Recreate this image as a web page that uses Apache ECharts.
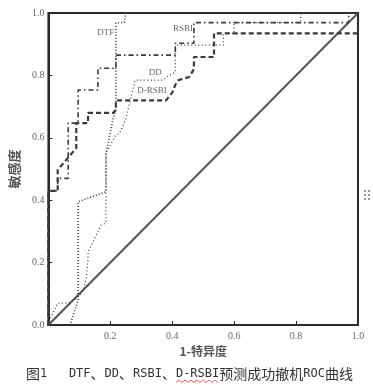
<!DOCTYPE html>
<html><head><meta charset="utf-8">
<script src="https://cdn.jsdelivr.net/npm/echarts@6/dist/echarts.min.js"></script>
<style>html,body{margin:0;padding:0;background:#fff}#c{width:373px;height:385px}</style>
</head><body><div id="c"></div>
<script>
// tick labels
const xTicks = ['', '0.2', '0.4', '0.6', '0.8', '1.0'];
const yTicks = ['0.0', '0.2', '0.4', '0.6', '0.8', '1.0'];
// reference line
const refX = [0, 1];
const refY = [0, 1];
// DTF (dotted)
const dtfX = [0, 0.07, 0.096, 0.096, 0.186, 0.186, 0.208, 0.218, 0.218, 0.245, 0.25, 1];
const dtfY = [0, 0, 0.08, 0.395, 0.427, 0.55, 0.657, 0.69, 0.968, 0.97, 1, 1];
// DD (fine dotted)
const ddX = [0, 0.006, 0.03, 0.064, 0.09, 0.105, 0.115, 0.122, 0.128, 0.128, 0.144, 0.16, 0.17, 0.186, 0.186, 0.215, 0.23, 0.25, 0.28, 0.37, 0.39, 0.41, 0.41, 0.565, 0.565, 0.6, 0.6, 0.815, 0.815, 1];
const ddY = [0, 0.02, 0.07, 0.07, 0.085, 0.1, 0.12, 0.15, 0.21, 0.235, 0.265, 0.3, 0.32, 0.327, 0.55, 0.605, 0.615, 0.66, 0.785, 0.785, 0.8, 0.81, 0.897, 0.897, 0.935, 0.935, 0.969, 0.969, 1, 1];
// RSBI (dash-dot)
const rsbiX = [0, 0, 0.03, 0.03, 0.064, 0.064, 0.096, 0.096, 0.16, 0.16, 0.218, 0.218, 0.41, 0.41, 0.47, 0.47, 0.97, 0.97, 1];
const rsbiY = [0, 0.43, 0.43, 0.47, 0.47, 0.647, 0.647, 0.753, 0.753, 0.823, 0.823, 0.865, 0.865, 0.903, 0.903, 0.969, 0.969, 1, 1];
// D-RSBI (dashed)
const drsbiX = [0, 0, 0.03, 0.03, 0.058, 0.09, 0.09, 0.128, 0.128, 0.21, 0.218, 0.218, 0.38, 0.40, 0.41, 0.42, 0.455, 0.47, 0.47, 0.535, 0.535, 1, 1];
const drsbiY = [0, 0.43, 0.43, 0.497, 0.53, 0.567, 0.647, 0.647, 0.68, 0.68, 0.69, 0.72, 0.72, 0.745, 0.77, 0.785, 0.795, 0.82, 0.859, 0.859, 0.935, 0.935, 1];
// curve labels
const curveNames = ['DTF', 'RSBI', 'DD', 'D-RSBI'];
const labelX = [0.185, 0.435, 0.345, 0.335];
const labelY = [0.937, 0.95, 0.81, 0.752];

const pairs = (xs, ys) => xs.map((x, i) => [x, ys[i]]);
const ink = '#3a3a3a';
const serif = '"Liberation Serif","DejaVu Serif",serif';

// caption pieces (Latin in mono, CJK wider)
const captionParts = [['c', '图'], ['a', '1   DTF'], ['c', '、'], ['a', 'DD'], ['c', '、'], ['a', 'RSBI'], ['c', '、'], ['a', 'D-RSBI'], ['c', '预测成功撤机'], ['a', 'ROC'], ['c', '曲线']];
const captionRich = captionParts.map(([k, t]) => '{' + k + '|' + t + '}').join('');

// red wavy spell-check underline under "D-RSBI"
const wave = [];
for (let i = 0; i <= 14; i++) wave.push([176 + i * 3, i % 2 ? 380 : 382.5]);

const chart = echarts.init(document.getElementById('c'), null, {renderer: 'canvas'});
const lineSeries = (name, xs, ys, type, width, z, color) => ({
  name, type: 'line', data: pairs(xs, ys), symbol: 'none', z,
  lineStyle: {color: color || ink, width, type}, silent: true
});
chart.setOption({
  backgroundColor: '#fff',
  animation: false,
  grid: {left: 45, right: 15, top: 13, bottom: 60, show: true, borderColor: '#2a2a2a', borderWidth: 2, backgroundColor: '#fff'},
  xAxis: {
    type: 'value', min: 0, max: 1, interval: 0.2,
    name: '1-特异度', nameLocation: 'middle', nameGap: 20,
    nameTextStyle: {fontFamily: '"Noto Sans CJK SC"', fontSize: 12, fontWeight: 'bold', color: '#555'},
    axisLine: {show: true, lineStyle: {color: '#2a2a2a', width: 2}},
    axisTick: {show: true, inside: true, length: 4, lineStyle: {color: '#2a2a2a'}},
    axisLabel: {fontFamily: serif, fontSize: 10, color: '#666', margin: 6, formatter: (v) => xTicks[Math.round(v / 0.2)]},
    splitLine: {show: false}
  },
  yAxis: {
    type: 'value', min: 0, max: 1, interval: 0.2,
    name: '敏感度', nameLocation: 'middle', nameGap: 19, nameRotate: 90,
    nameTextStyle: {fontFamily: '"Noto Sans CJK SC"', fontSize: 13, fontWeight: 'bold', color: '#555'},
    axisLine: {show: true, lineStyle: {color: '#2a2a2a', width: 2}},
    axisTick: {show: true, inside: true, length: 4, lineStyle: {color: '#2a2a2a'}},
    axisLabel: {fontFamily: serif, fontSize: 10, color: '#666', margin: 4, formatter: (v) => yTicks[Math.round(v / 0.2)]},
    splitLine: {show: false}
  },
  series: [
    lineSeries('ref', refX, refY, 'solid', 2, 2, '#555'),
    lineSeries('DTF', dtfX, dtfY, [1, 2], 1.6, 3),
    lineSeries('DD', ddX, ddY, [1, 2.5], 1.2, 3),
    lineSeries('RSBI', rsbiX, rsbiY, [5, 3, 1.5, 3], 1.6, 4),
    lineSeries('D-RSBI', drsbiX, drsbiY, [5, 3], 2.2, 5),
    {
      type: 'scatter', data: pairs(labelX, labelY), symbolSize: 0, silent: true, z: 6,
      label: {show: true, position: 'inside', formatter: (p) => curveNames[p.dataIndex],
        fontFamily: serif, fontSize: 9, color: '#444'}
    }
  ],
  graphic: [
    {type: 'text', left: 26, top: 367,
      style: {text: captionRich, fill: '#333',
        rich: {
          a: {fontFamily: '"DejaVu Sans Mono"', fontSize: 12, fill: '#333'},
          c: {fontFamily: '"Noto Sans CJK SC"', fontSize: 14, fill: '#333'}
        }}},
    {type: 'polyline', shape: {points: wave}, style: {stroke: '#e33', lineWidth: 0.8, fill: null}},
    {type: 'group', left: 364, top: 190, children: [
      {type: 'circle', shape: {cx: 0, cy: 0, r: 1}, style: {fill: '#777'}},
      {type: 'circle', shape: {cx: 4, cy: 0, r: 1}, style: {fill: '#777'}},
      {type: 'circle', shape: {cx: 0, cy: 4, r: 1}, style: {fill: '#777'}},
      {type: 'circle', shape: {cx: 4, cy: 4, r: 1}, style: {fill: '#777'}},
      {type: 'circle', shape: {cx: 0, cy: 8, r: 1}, style: {fill: '#777'}},
      {type: 'circle', shape: {cx: 4, cy: 8, r: 1}, style: {fill: '#777'}}
    ]}
  ]
});
</script></body></html>
